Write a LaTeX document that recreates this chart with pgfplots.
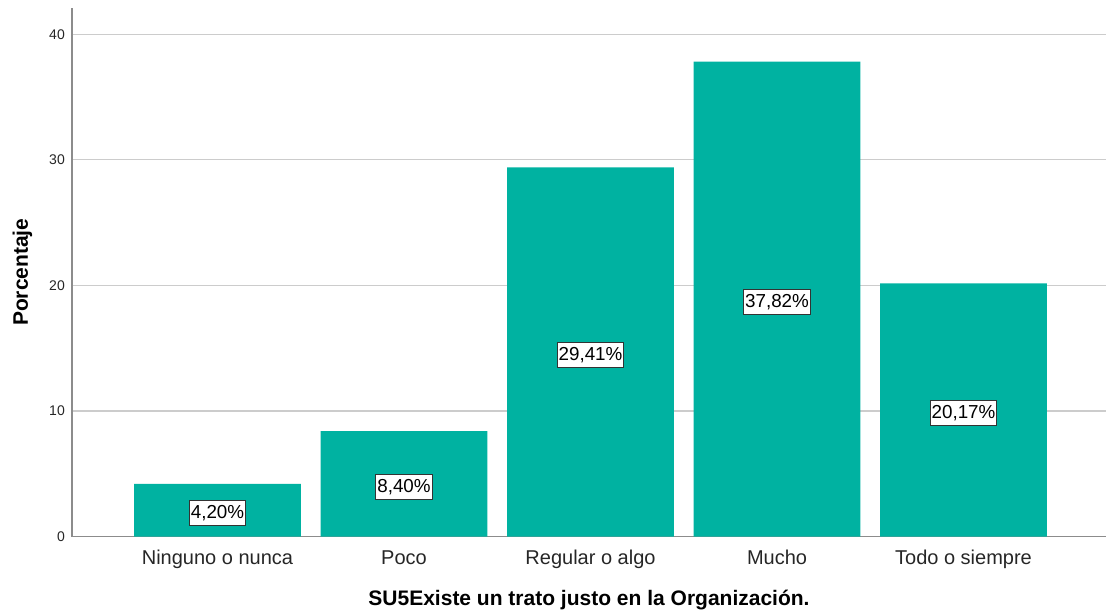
\documentclass[border=0pt]{standalone}
\usepackage{pgfplots}
\pgfplotsset{compat=1.18}
\usepackage{fontspec}
\setmainfont{Liberation Sans}
\definecolor{barteal}{RGB}{0,178,161}
\definecolor{axgray}{RGB}{140,140,140}
\definecolor{gridgray}{RGB}{204,204,204}
\begin{document}
\begin{tikzpicture}
\path[use as bounding box] (-72bp,-74.5bp) rectangle (1034bp,536.5bp);
\begin{axis}[
  at={(0,0)}, anchor=south west,
  scale only axis,
  width=1034bp, height=528.5bp,
  xmin=-0.78, xmax=4.764,
  ymin=0, ymax=42.1,
  axis x line*=bottom, axis y line*=left,
  axis line style={axgray, line width=1.4bp, -},
  ymajorgrids,
  major grid style={gridgray, line width=1.2bp},
  major tick length=0pt,
  ytick={0,10,20,30,40},
  xtick={0,1,2,3,4},
  xticklabels={Ninguno o nunca, Poco, Regular o algo, Mucho, Todo o siempre},
  /pgf/number format/assume math mode=true,
  yticklabel style={font=\fontsize{14bp}{16bp}\selectfont, anchor=east, inner sep=0pt, xshift=-7bp, text=black!85},
  xticklabel style={font=\fontsize{20bp}{22bp}\selectfont, anchor=base, inner sep=0pt, yshift=-27.5bp, text=black!85},
  xlabel={SU5Existe un trato justo en la Organización.},
  ylabel={Porcentaje},
  every axis x label/.style={at={(rel axis cs:0.5,0)}, anchor=base, yshift=-68.5bp, inner sep=0pt, font=\bfseries\fontsize{21bp}{24bp}\selectfont},
  every axis y label/.style={at={(rel axis cs:0,0.5)}, xshift=-44bp, rotate=90, anchor=base, inner sep=0pt, font=\bfseries\fontsize{21bp}{24bp}\selectfont},
  clip=false,
]
\addplot[ybar, bar width=0.895, fill=barteal, draw=none] coordinates {
  (0,4.20) (1,8.40) (2,29.41) (3,37.82) (4,20.17)
};
\addplot[draw=none, mark=none,
  point meta=explicit symbolic,
  nodes near coords,
  every node near coord/.style={anchor=center, yshift=-3bp, fill=white, draw=black!80, line width=0.9bp,
    inner xsep=1.5bp, inner ysep=4.5bp, font=\fontsize{18.8bp}{21bp}\selectfont,
    text height=13.5bp, text depth=3bp}
] coordinates {
  (0,2.10) [4,20\%]
  (1,4.20) [8,40\%]
  (2,14.705) [29,41\%]
  (3,18.91) [37,82\%]
  (4,10.085) [20,17\%]
};
\end{axis}
\end{tikzpicture}
\end{document}
